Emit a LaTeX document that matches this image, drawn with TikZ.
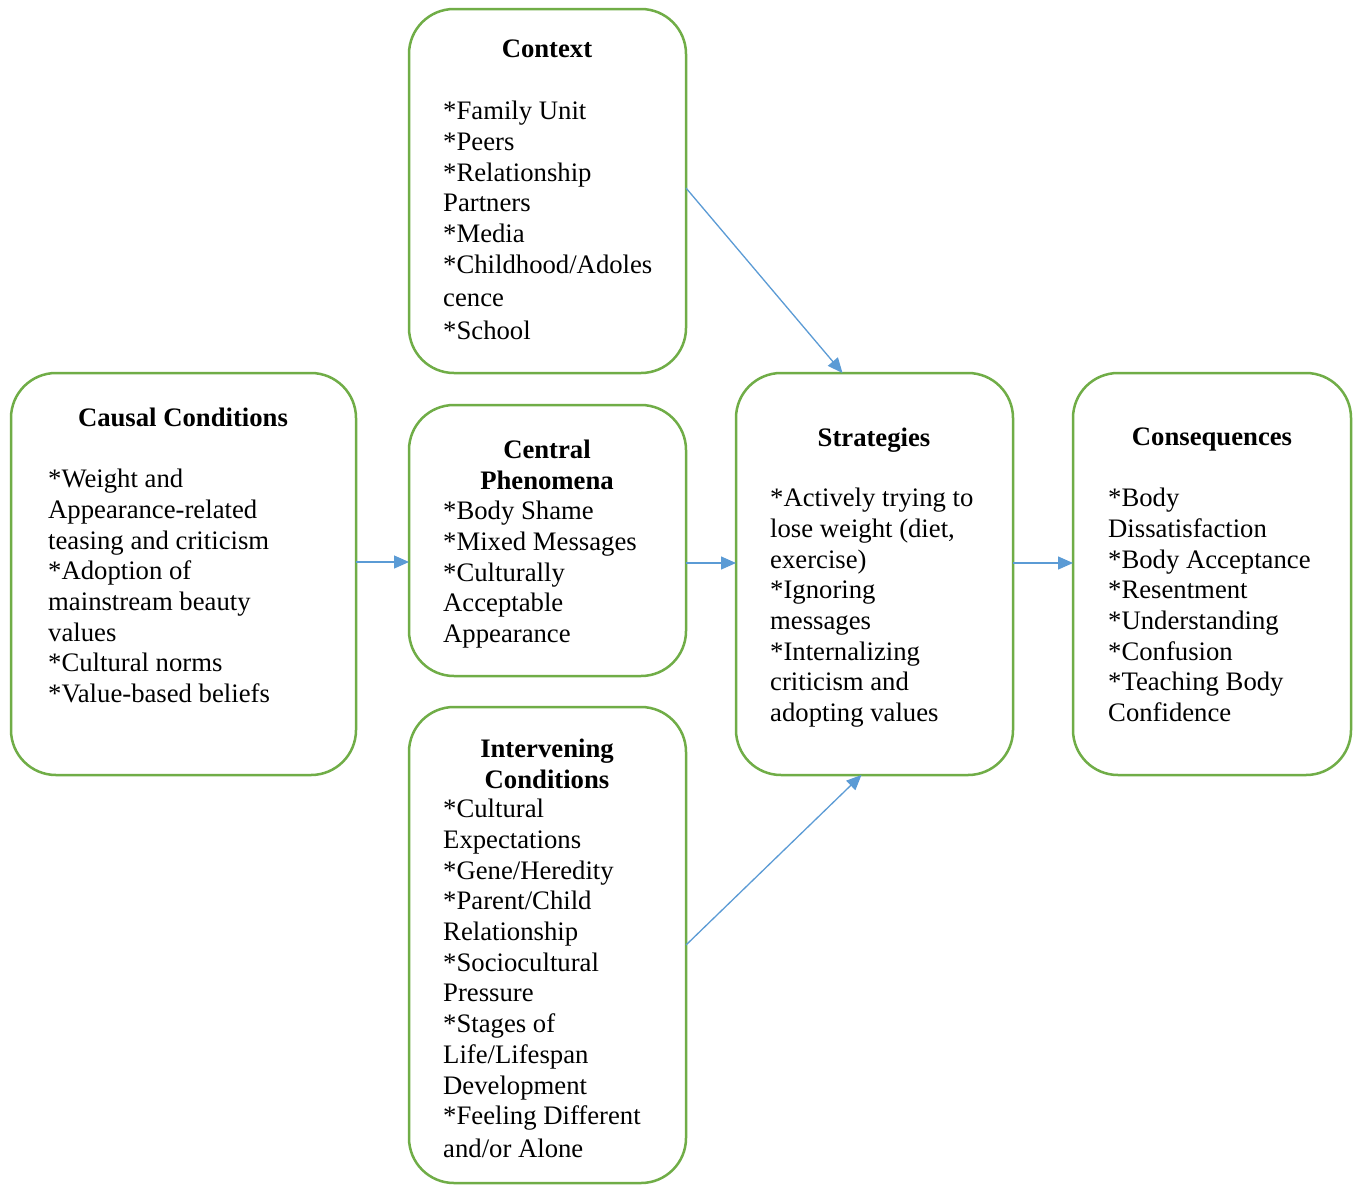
\documentclass[tikz,border=0pt]{standalone}
\usepackage{fontspec}
\setmainfont{Liberation Serif}
\usetikzlibrary{arrows.meta}
\definecolor{boxgreen}{HTML}{70AD47}
\definecolor{arrowblue}{HTML}{5B9BD5}
\begin{document}
\begin{tikzpicture}[x=1pt,y=-1pt,
  box/.style={draw=boxgreen, line width=2.5pt, rounded corners=45pt, fill=white, inner sep=0pt, outer sep=0pt},
  txt/.style={anchor=north west, align=left, inner sep=0pt, font=\fontsize{26.7}{30.7}\selectfont},
  ttl/.style={anchor=north, align=center, inner sep=0pt, font=\fontsize{26.7}{30.7}\selectfont\bfseries},
  conn/.style={draw=arrowblue, line width=1.3pt, -{Triangle[length=15pt,width=13pt]}}
]
\useasboundingbox (0,0) rectangle (1357,1186);
\fill[white] (0,0) rectangle (1357,1186);

% boxes
\node[box, minimum width=277pt, minimum height=364pt] (context) at (547.5,191) {};
\node[box, minimum width=345pt, minimum height=402pt] (causal) at (183.5,574) {};
\node[box, minimum width=277pt, minimum height=271pt] (central) at (547.5,540.5) {};
\node[box, minimum width=277pt, minimum height=476pt] (interv) at (547.5,945) {};
\node[box, minimum width=277pt, minimum height=402pt] (strat) at (874.5,574) {};
\node[box, minimum width=278pt, minimum height=402pt] (conseq) at (1212,574) {};

% titles
\node[ttl] (tcontext) at (547,40) {Context};
\node[ttl] (tcausal) at (183,408) {Causal Conditions};
\node[ttl] (tcentral) at (547,440) {Central\\Phenomena};
\node[ttl] (tinterv) at (547,739) {Intervening\\Conditions};
\node[ttl] (tstrat) at (874,428) {Strategies};
\node[ttl] (tconseq) at (1212,428) {Consequences};

% bodies
\node[txt] (bcontext) at (443,101) {*Family Unit\\*Peers\\*Relationship\\Partners\\*Media\\*Childhood/Adoles\\[2.5pt]cence\\[2.5pt]*School};
\node[txt] (bcausal) at (48,469) {*Weight and\\Appearance-related\\teasing and criticism\\*Adoption of\\mainstream beauty\\values\\*Cultural norms\\*Value-based beliefs};
\node[txt] (bcentral) at (443,501) {*Body Shame\\*Mixed Messages\\*Culturally\\Acceptable\\Appearance};
\node[txt] (binterv) at (443,799) {*Cultural\\Expectations\\*Gene/Heredity\\*Parent/Child\\Relationship\\*Sociocultural\\Pressure\\*Stages of\\Life/Lifespan\\Development\\*Feeling Different\\[2.5pt]and/or Alone};
\node[txt] (bstrat) at (770,488) {*Actively trying to\\lose weight (diet,\\exercise)\\*Ignoring\\messages\\*Internalizing\\criticism and\\adopting values};
\node[txt] (bconseq) at (1108,488) {*Body\\Dissatisfaction\\*Body Acceptance\\*Resentment\\*Understanding\\*Confusion\\*Teaching Body\\Confidence};

% connectors
\draw[conn] ([yshift=12pt]causal.east) -- ([yshift=12pt]causal.east -| central.west);
\draw[conn] ([yshift=11pt]strat.west -| central.east) -- ([yshift=11pt]strat.west);
\draw[conn] ([yshift=11pt]strat.east) -- ([yshift=11pt]strat.east -| conseq.west);
\draw[conn] ([yshift=3pt]context.east) -- ([xshift=-32pt]strat.north);
\draw[conn] (interv.east) -- ([xshift=-13pt]strat.south);
\end{tikzpicture}
\end{document}
